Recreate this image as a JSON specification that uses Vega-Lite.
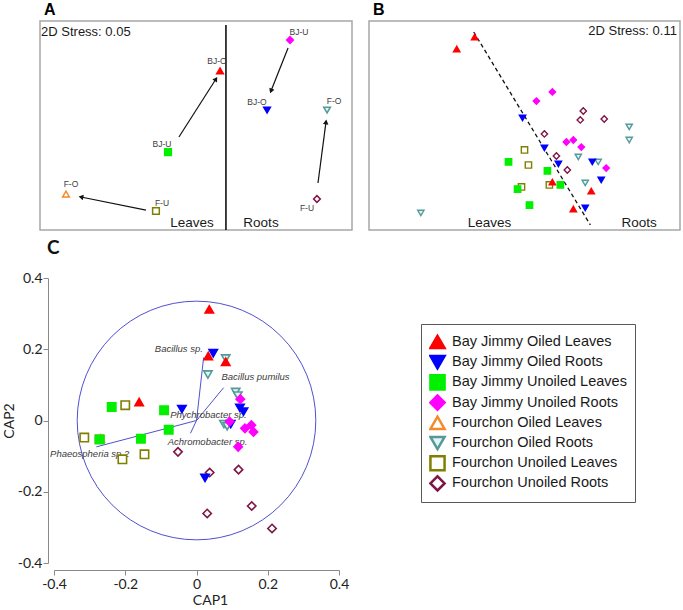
{
  "$schema": "https://vega.github.io/schema/vega-lite/v6.json",
  "padding": {"left": 2, "top": 1, "right": 0, "bottom": 0},
  "autosize": {"type": "pad"},
  "background": "white",
  "config": {
    "view": {"stroke": null},
    "font": "Liberation Sans",
    "legend": {
      "orient": "none", "legendX": 381, "legendY": 46,
      "strokeColor": "#595959", "padding": 8, "rowPadding": 0.2, "clipHeight": 20,
      "labelFont": "Liberation Sans", "labelFontSize": 14.5, "labelColor": "#1a1a1a",
      "symbolSize": 200, "symbolStrokeWidth": 2.5, "labelOffset": 6, "labelLimit": 400
    }
  },
  "datasets": {
    "a_points": [
      {"group": "Fourchon Oiled Leaves", "code": "F-O", "x": -1.25, "y": -0.656, "label_x": -1.202, "label_y": -0.56},
      {"group": "Fourchon Unoiled Leaves", "code": "F-U", "x": -0.385, "y": -0.818, "label_x": -0.327, "label_y": -0.742},
      {"group": "Bay Jimmy Unoiled Leaves", "code": "BJ-U", "x": -0.269, "y": -0.254, "label_x": -0.327, "label_y": -0.177},
      {"group": "Bay Jimmy Oiled Leaves", "code": "BJ-O", "x": 0.231, "y": 0.522, "label_x": 0.202, "label_y": 0.617},
      {"group": "Bay Jimmy Unoiled Roots", "code": "BJ-U", "x": 0.904, "y": 0.818, "label_x": 0.99, "label_y": 0.895},
      {"group": "Bay Jimmy Oiled Roots", "code": "BJ-O", "x": 0.683, "y": 0.148, "label_x": 0.586, "label_y": 0.225},
      {"group": "Fourchon Oiled Roots", "code": "F-O", "x": 1.26, "y": 0.148, "label_x": 1.327, "label_y": 0.234},
      {"group": "Fourchon Unoiled Roots", "code": "F-U", "x": 1.163, "y": -0.703, "label_x": 1.067, "label_y": -0.789}
    ],
    "a_arrows": [
      {"tissue": "Leaves", "site": "Bay Jimmy", "x": -0.164, "y": -0.11, "x2": 0.192, "y2": 0.445, "bearing": 32.5},
      {"tissue": "Leaves", "site": "Fourchon", "x": -0.481, "y": -0.809, "x2": -1.106, "y2": -0.684, "bearing": 281.3},
      {"tissue": "Roots", "site": "Bay Jimmy", "x": 0.885, "y": 0.742, "x2": 0.721, "y2": 0.33, "bearing": 201.6},
      {"tissue": "Roots", "site": "Fourchon", "x": 1.173, "y": -0.55, "x2": 1.25, "y2": 0.034, "bearing": 7.5}
    ],
    "a_divider": [
      {"x": 0.288, "y": 0.962},
      {"x": 0.288, "y": -1.0}
    ],
    "b_divider": [
      {"x": -0.49, "y": 0.895},
      {"x": 0.635, "y": -0.952}
    ],
    "b_points": [
      {"group": "Fourchon Unoiled Leaves", "x": 0.0, "y": -0.234},
      {"group": "Fourchon Unoiled Leaves", "x": 0.038, "y": -0.378},
      {"group": "Fourchon Unoiled Leaves", "x": -0.029, "y": -0.588},
      {"group": "Fourchon Unoiled Leaves", "x": 0.24, "y": -0.569},
      {"group": "Fourchon Unoiled Roots", "x": 0.567, "y": 0.139},
      {"group": "Fourchon Unoiled Roots", "x": 0.538, "y": 0.053},
      {"group": "Fourchon Unoiled Roots", "x": 0.769, "y": 0.062},
      {"group": "Fourchon Unoiled Roots", "x": 0.192, "y": -0.081},
      {"group": "Fourchon Unoiled Roots", "x": 0.308, "y": -0.292},
      {"group": "Fourchon Unoiled Roots", "x": 0.413, "y": -0.426},
      {"group": "Fourchon Oiled Roots", "x": 1.01, "y": -0.014},
      {"group": "Fourchon Oiled Roots", "x": 1.01, "y": -0.139},
      {"group": "Fourchon Oiled Roots", "x": 0.519, "y": -0.301},
      {"group": "Fourchon Oiled Roots", "x": 0.711, "y": -0.349},
      {"group": "Fourchon Oiled Roots", "x": 0.586, "y": -0.55},
      {"group": "Fourchon Oiled Roots", "x": -1.0, "y": -0.837},
      {"group": "Bay Jimmy Oiled Leaves", "x": -0.654, "y": 0.732},
      {"group": "Bay Jimmy Oiled Leaves", "x": -0.481, "y": 0.847},
      {"group": "Bay Jimmy Oiled Leaves", "x": 0.269, "y": -0.541},
      {"group": "Bay Jimmy Oiled Leaves", "x": 0.644, "y": -0.627},
      {"group": "Bay Jimmy Oiled Leaves", "x": 0.471, "y": -0.799},
      {"group": "Bay Jimmy Oiled Roots", "x": -0.019, "y": 0.072},
      {"group": "Bay Jimmy Oiled Roots", "x": 0.192, "y": -0.215},
      {"group": "Bay Jimmy Oiled Roots", "x": 0.327, "y": -0.368},
      {"group": "Bay Jimmy Oiled Roots", "x": 0.654, "y": -0.349},
      {"group": "Bay Jimmy Oiled Roots", "x": 0.74, "y": -0.521},
      {"group": "Bay Jimmy Oiled Roots", "x": 0.586, "y": -0.789},
      {"group": "Bay Jimmy Unoiled Leaves", "x": -0.154, "y": -0.349},
      {"group": "Bay Jimmy Unoiled Leaves", "x": 0.221, "y": -0.435},
      {"group": "Bay Jimmy Unoiled Leaves", "x": 0.346, "y": -0.569},
      {"group": "Bay Jimmy Unoiled Leaves", "x": -0.067, "y": -0.608},
      {"group": "Bay Jimmy Unoiled Leaves", "x": 0.048, "y": -0.761},
      {"group": "Bay Jimmy Unoiled Roots", "x": 0.269, "y": 0.321},
      {"group": "Bay Jimmy Unoiled Roots", "x": 0.115, "y": 0.234},
      {"group": "Bay Jimmy Unoiled Roots", "x": 0.404, "y": -0.158},
      {"group": "Bay Jimmy Unoiled Roots", "x": 0.471, "y": -0.139},
      {"group": "Bay Jimmy Unoiled Roots", "x": 0.548, "y": -0.206},
      {"group": "Bay Jimmy Unoiled Roots", "x": 0.788, "y": -0.407}
    ],
    "c_points": [
      {"group": "Fourchon Unoiled Leaves", "x": -0.2, "y": 0.043},
      {"group": "Fourchon Unoiled Leaves", "x": -0.315, "y": -0.048},
      {"group": "Fourchon Unoiled Leaves", "x": -0.272, "y": -0.053},
      {"group": "Fourchon Unoiled Leaves", "x": -0.208, "y": -0.109},
      {"group": "Fourchon Unoiled Leaves", "x": -0.146, "y": -0.095},
      {"group": "Fourchon Oiled Leaves", "x": -0.27, "y": -0.05},
      {"group": "Fourchon Unoiled Roots", "x": -0.052, "y": -0.088},
      {"group": "Fourchon Unoiled Roots", "x": 0.037, "y": -0.146},
      {"group": "Fourchon Unoiled Roots", "x": 0.118, "y": -0.138},
      {"group": "Fourchon Unoiled Roots", "x": 0.03, "y": -0.261},
      {"group": "Fourchon Unoiled Roots", "x": 0.155, "y": -0.24},
      {"group": "Fourchon Unoiled Roots", "x": 0.212, "y": -0.303},
      {"group": "Fourchon Oiled Roots", "x": 0.082, "y": 0.174},
      {"group": "Fourchon Oiled Roots", "x": 0.032, "y": 0.129},
      {"group": "Fourchon Oiled Roots", "x": 0.11, "y": 0.08},
      {"group": "Fourchon Oiled Roots", "x": 0.116, "y": 0.07},
      {"group": "Fourchon Oiled Roots", "x": 0.077, "y": -0.01},
      {"group": "Fourchon Oiled Roots", "x": 0.086, "y": -0.016},
      {"group": "Bay Jimmy Oiled Leaves", "x": 0.036, "y": 0.312},
      {"group": "Bay Jimmy Oiled Leaves", "x": 0.033, "y": 0.181},
      {"group": "Bay Jimmy Oiled Leaves", "x": 0.082, "y": 0.165},
      {"group": "Bay Jimmy Oiled Leaves", "x": -0.161, "y": 0.052},
      {"group": "Bay Jimmy Oiled Roots", "x": 0.047, "y": 0.189},
      {"group": "Bay Jimmy Oiled Roots", "x": -0.041, "y": 0.032},
      {"group": "Bay Jimmy Oiled Roots", "x": 0.122, "y": 0.035},
      {"group": "Bay Jimmy Oiled Roots", "x": 0.132, "y": 0.025},
      {"group": "Bay Jimmy Oiled Roots", "x": 0.096, "y": -0.01},
      {"group": "Bay Jimmy Oiled Roots", "x": 0.024, "y": -0.161},
      {"group": "Bay Jimmy Unoiled Leaves", "x": -0.238, "y": 0.038},
      {"group": "Bay Jimmy Unoiled Leaves", "x": -0.091, "y": 0.029},
      {"group": "Bay Jimmy Unoiled Leaves", "x": -0.078, "y": -0.026},
      {"group": "Bay Jimmy Unoiled Leaves", "x": -0.156, "y": -0.051},
      {"group": "Bay Jimmy Unoiled Leaves", "x": -0.272, "y": -0.053},
      {"group": "Bay Jimmy Unoiled Roots", "x": 0.123, "y": 0.06},
      {"group": "Bay Jimmy Unoiled Roots", "x": 0.093, "y": -0.003},
      {"group": "Bay Jimmy Unoiled Roots", "x": 0.136, "y": -0.022},
      {"group": "Bay Jimmy Unoiled Roots", "x": 0.154, "y": -0.013},
      {"group": "Bay Jimmy Unoiled Roots", "x": 0.16, "y": -0.032},
      {"group": "Bay Jimmy Unoiled Roots", "x": 0.117, "y": -0.074}
    ],
    "c_vectors": [
      {"taxon": "Bacillus sp.", "x0": 0, "y0": 0, "x": 0.02, "y": 0.177, "label_x": -0.117, "label_y": 0.202},
      {"taxon": "Bacillus pumilus", "x0": 0, "y0": 0, "x": 0.076, "y": 0.092, "label_x": 0.07, "label_y": 0.121},
      {"taxon": "Phychrobacter sp.", "x0": 0, "y0": 0, "x": 0.006, "y": 0.006, "label_x": -0.074, "label_y": 0.015},
      {"taxon": "Achromobacter sp.", "x0": 0, "y0": 0, "x": -0.017, "y": -0.036, "label_x": -0.081, "label_y": -0.059},
      {"taxon": "Phaeospheria sp.2", "x0": 0, "y0": 0, "x": -0.281, "y": -0.074, "label_x": -0.411, "label_y": -0.094}
    ],
    "c_circle": [
      {"x": 0, "y": 0}
    ],
    "a_notes": [
      {"note": "Leaves", "x": -0.038, "y": -0.971},
      {"note": "Roots", "x": 0.625, "y": -0.971}
    ],
    "a_stress": [
      {"note": "2D Stress: 0.05", "x": -1.49, "y": 0.856}
    ],
    "b_notes": [
      {"note": "Leaves", "x": -0.337, "y": -0.971},
      {"note": "Roots", "x": 1.106, "y": -0.971}
    ],
    "b_stress": [
      {"note": "2D Stress: 0.11", "x": 1.47, "y": 0.866}
    ]
  },
  "spacing": 5,
  "columns": 1,
  "align": "none",
  "resolve": {"scale": {"x": "independent", "y": "independent", "shape": "independent", "fill": "independent", "stroke": "independent"}},
  "concat": [
    {
      "spacing": 15,
      "resolve": {"scale": {"x": "independent", "y": "independent"}},
      "hconcat": [
        {
          "width": 312, "height": 209,
          "view": {"stroke": "#a6a6a6", "strokeWidth": 1.5},
          "title": {"text": "A", "anchor": "start", "frame": "group", "dx": 4, "offset": -10, "fontSize": 16, "fontWeight": "bold", "font": "Liberation Sans", "baseline": "alphabetic", "color": "#000000"},
          "layer": [
            {
              "data": {"name": "a_divider"},
              "mark": {"type": "line", "color": "#000000", "strokeWidth": 1.5},
              "encoding": {
                "x": {"field": "x", "type": "quantitative", "scale": {"domain": [-1.5, 1.5], "nice": false, "zero": false}, "axis": null},
                "y": {"field": "y", "type": "quantitative", "scale": {"domain": [-1, 1], "nice": false, "zero": false}}
              }
            },
            {
              "data": {"name": "a_arrows"},
              "mark": {"type": "rule", "color": "#111111", "strokeWidth": 1.2},
              "encoding": {
                "x": {"field": "x", "type": "quantitative", "axis": null},
                "y": {"field": "y", "type": "quantitative"},
                "x2": {"field": "x2"},
                "y2": {"field": "y2"}
              }
            },
            {
              "data": {"name": "a_arrows"},
              "mark": {"type": "point", "shape": "triangle-up", "filled": true, "color": "#111111", "size": 30, "opacity": 1},
              "encoding": {
                "x": {"field": "x2", "type": "quantitative", "axis": null},
                "y": {"field": "y2", "type": "quantitative"},
                "angle": {"field": "bearing", "type": "quantitative", "scale": null}
              }
            },
            {
              "data": {"name": "a_points"},
              "mark": {"type": "point", "filled": true, "size": 45, "strokeWidth": 1.5, "opacity": 1},
              "encoding": {
                "x": {"field": "x", "type": "quantitative", "axis": null},
                "y": {"field": "y", "type": "quantitative", "axis": {"domain": false, "ticks": false, "labels": false, "grid": false, "title": null, "minExtent": 34}},
                "shape": {"field": "group", "type": "nominal", "legend": null, "scale": {"domain": ["Bay Jimmy Oiled Leaves", "Bay Jimmy Oiled Roots", "Bay Jimmy Unoiled Leaves", "Bay Jimmy Unoiled Roots", "Fourchon Oiled Leaves", "Fourchon Oiled Roots", "Fourchon Unoiled Leaves", "Fourchon Unoiled Roots"], "range": ["triangle-up", "triangle-down", "square", "diamond", "triangle-up", "triangle-down", "square", "diamond"]}},
                "fill": {"field": "group", "type": "nominal", "legend": null, "scale": {"domain": ["Bay Jimmy Oiled Leaves", "Bay Jimmy Oiled Roots", "Bay Jimmy Unoiled Leaves", "Bay Jimmy Unoiled Roots", "Fourchon Oiled Leaves", "Fourchon Oiled Roots", "Fourchon Unoiled Leaves", "Fourchon Unoiled Roots"], "range": ["#ff0000", "#0000ff", "#00f000", "#ff00ff", "#ffffff", "#e0f5f5", "#ffffff", "#ffffff"]}},
                "stroke": {"field": "group", "type": "nominal", "legend": null, "scale": {"domain": ["Bay Jimmy Oiled Leaves", "Bay Jimmy Oiled Roots", "Bay Jimmy Unoiled Leaves", "Bay Jimmy Unoiled Roots", "Fourchon Oiled Leaves", "Fourchon Oiled Roots", "Fourchon Unoiled Leaves", "Fourchon Unoiled Roots"], "range": ["#ff0000", "#0000ff", "#00f000", "#ff00ff", "#f28c28", "#559999", "#7f7f00", "#7f1446"]}}
              }
            },
            {
              "data": {"name": "a_points"},
              "mark": {"type": "text", "fontSize": 8.5, "color": "#3c3c3c", "align": "center", "baseline": "middle"},
              "encoding": {
                "x": {"field": "label_x", "type": "quantitative", "axis": null},
                "y": {"field": "label_y", "type": "quantitative"},
                "text": {"field": "code"}
              }
            },
            {
              "data": {"name": "a_stress"},
              "mark": {"type": "text", "fontSize": 13, "align": "left", "baseline": "alphabetic", "color": "#1a1a1a"},
              "encoding": {"x": {"field": "x", "type": "quantitative", "axis": null}, "y": {"field": "y", "type": "quantitative"}, "text": {"field": "note"}}
            },
            {
              "data": {"name": "a_notes"},
              "mark": {"type": "text", "fontSize": 13.5, "align": "center", "baseline": "alphabetic", "color": "#1a1a1a"},
              "encoding": {"x": {"field": "x", "type": "quantitative", "axis": null}, "y": {"field": "y", "type": "quantitative"}, "text": {"field": "note"}}
            }
          ]
        },
        {
          "width": 311, "height": 209,
          "view": {"stroke": "#a6a6a6", "strokeWidth": 1.5},
          "title": {"text": "B", "anchor": "start", "frame": "group", "dx": 4, "offset": -10, "fontSize": 16, "fontWeight": "bold", "font": "Liberation Sans", "baseline": "alphabetic", "color": "#000000"},
          "layer": [
            {
              "data": {"name": "b_divider"},
              "mark": {"type": "line", "color": "#111111", "strokeWidth": 1.3, "strokeDash": [4, 3]},
              "encoding": {
                "x": {"field": "x", "type": "quantitative", "scale": {"domain": [-1.5, 1.5], "nice": false, "zero": false}, "axis": null},
                "y": {"field": "y", "type": "quantitative", "scale": {"domain": [-1, 1], "nice": false, "zero": false}, "axis": null}
              }
            },
            {
              "data": {"name": "b_points"},
              "mark": {"type": "point", "filled": true, "size": 40, "strokeWidth": 1.4, "opacity": 1},
              "encoding": {
                "x": {"field": "x", "type": "quantitative", "axis": null},
                "y": {"field": "y", "type": "quantitative", "axis": null},
                "shape": {"field": "group", "type": "nominal", "legend": null, "scale": {"domain": ["Bay Jimmy Oiled Leaves", "Bay Jimmy Oiled Roots", "Bay Jimmy Unoiled Leaves", "Bay Jimmy Unoiled Roots", "Fourchon Oiled Leaves", "Fourchon Oiled Roots", "Fourchon Unoiled Leaves", "Fourchon Unoiled Roots"], "range": ["triangle-up", "triangle-down", "square", "diamond", "triangle-up", "triangle-down", "square", "diamond"]}},
                "fill": {"field": "group", "type": "nominal", "legend": null, "scale": {"domain": ["Bay Jimmy Oiled Leaves", "Bay Jimmy Oiled Roots", "Bay Jimmy Unoiled Leaves", "Bay Jimmy Unoiled Roots", "Fourchon Oiled Leaves", "Fourchon Oiled Roots", "Fourchon Unoiled Leaves", "Fourchon Unoiled Roots"], "range": ["#ff0000", "#0000ff", "#00f000", "#ff00ff", "#ffffff", "#e0f5f5", "#ffffff", "#ffffff"]}},
                "stroke": {"field": "group", "type": "nominal", "legend": null, "scale": {"domain": ["Bay Jimmy Oiled Leaves", "Bay Jimmy Oiled Roots", "Bay Jimmy Unoiled Leaves", "Bay Jimmy Unoiled Roots", "Fourchon Oiled Leaves", "Fourchon Oiled Roots", "Fourchon Unoiled Leaves", "Fourchon Unoiled Roots"], "range": ["#ff0000", "#0000ff", "#00f000", "#ff00ff", "#f28c28", "#559999", "#7f7f00", "#7f1446"]}}
              }
            },
            {
              "data": {"name": "b_stress"},
              "mark": {"type": "text", "fontSize": 13, "align": "right", "baseline": "alphabetic", "color": "#1a1a1a"},
              "encoding": {"x": {"field": "x", "type": "quantitative", "axis": null}, "y": {"field": "y", "type": "quantitative", "axis": null}, "text": {"field": "note"}}
            },
            {
              "data": {"name": "b_notes"},
              "mark": {"type": "text", "fontSize": 13.5, "align": "center", "baseline": "alphabetic", "color": "#1a1a1a"},
              "encoding": {"x": {"field": "x", "type": "quantitative", "axis": null}, "y": {"field": "y", "type": "quantitative", "axis": null}, "text": {"field": "note"}}
            }
          ]
        }
      ]
    },
    {
      "width": 299, "height": 285,
      "title": {"text": "C", "anchor": "start", "frame": "group", "dx": 7, "offset": -2, "fontSize": 19, "fontWeight": "bold", "font": "Lato", "baseline": "alphabetic", "color": "#111111"},
      "layer": [
        {
          "data": {"name": "c_circle"},
          "mark": {"type": "point", "shape": "circle", "size": 56930, "filled": false, "stroke": "#5050d0", "strokeWidth": 1, "opacity": 1},
          "encoding": {
            "x": {"field": "x", "type": "quantitative", "scale": {"domain": [-0.4, 0.4], "range": [14, 299], "nice": false, "zero": false},
              "axis": {"title": "CAP1", "titleX": 170, "values": [-0.4, -0.2, 0, 0.2, 0.4], "grid": false, "offset": 7, "domainColor": "#8a8a8a", "tickColor": "#8a8a8a", "tickSize": 5, "labelFont": "Lato", "labelFontSize": 14, "labelColor": "#222222", "titleFont": "Lato", "titleFontSize": 14, "titleFontWeight": "normal", "titleColor": "#222222", "titlePadding": 2, "labelPadding": 2, "labelFlush": false, "labelExpr": "datum.value == 0 ? '0' : (datum.value < 0 ? '-' : '') + format(abs(datum.value), '.1f')"}},
            "y": {"field": "y", "type": "quantitative", "scale": {"domain": [-0.4, 0.4], "nice": false, "zero": false},
              "axis": {"title": "CAP2", "values": [-0.4, -0.2, 0, 0.2, 0.4], "grid": false, "offset": -8, "domainColor": "#8a8a8a", "tickColor": "#8a8a8a", "tickSize": 5, "labelFont": "Lato", "labelFontSize": 14, "labelColor": "#222222", "titleFont": "Lato", "titleFontSize": 14, "titleFontWeight": "normal", "titleColor": "#222222", "titlePadding": 1, "labelPadding": 1, "labelFlush": false, "labelExpr": "datum.value == 0 ? '0' : (datum.value < 0 ? '-' : '') + format(abs(datum.value), '.1f')"}}
          }
        },
        {
          "data": {"name": "c_vectors"},
          "mark": {"type": "rule", "color": "#5050d0", "strokeWidth": 1},
          "encoding": {
            "x": {"field": "x0", "type": "quantitative"},
            "y": {"field": "y0", "type": "quantitative"},
            "x2": {"field": "x"},
            "y2": {"field": "y"}
          }
        },
        {
          "data": {"name": "c_vectors"},
          "mark": {"type": "text", "fontSize": 9.5, "fontStyle": "italic", "color": "#3c3c3c", "align": "left", "baseline": "middle"},
          "encoding": {
            "x": {"field": "label_x", "type": "quantitative"},
            "y": {"field": "label_y", "type": "quantitative"},
            "text": {"field": "taxon"}
          }
        },
        {
          "data": {"name": "c_points"},
          "mark": {"type": "point", "filled": true, "size": 70, "strokeWidth": 1.6, "opacity": 1},
          "encoding": {
            "x": {"field": "x", "type": "quantitative"},
            "y": {"field": "y", "type": "quantitative"},
            "shape": {"field": "group", "type": "nominal", "title": null, "scale": {"domain": ["Bay Jimmy Oiled Leaves", "Bay Jimmy Oiled Roots", "Bay Jimmy Unoiled Leaves", "Bay Jimmy Unoiled Roots", "Fourchon Oiled Leaves", "Fourchon Oiled Roots", "Fourchon Unoiled Leaves", "Fourchon Unoiled Roots"], "range": ["triangle-up", "triangle-down", "square", "diamond", "triangle-up", "triangle-down", "square", "diamond"]}},
            "fill": {"field": "group", "type": "nominal", "title": null, "scale": {"domain": ["Bay Jimmy Oiled Leaves", "Bay Jimmy Oiled Roots", "Bay Jimmy Unoiled Leaves", "Bay Jimmy Unoiled Roots", "Fourchon Oiled Leaves", "Fourchon Oiled Roots", "Fourchon Unoiled Leaves", "Fourchon Unoiled Roots"], "range": ["#ff0000", "#0000ff", "#00f000", "#ff00ff", "#ffffff", "#e0f5f5", "#ffffff", "#ffffff"]}},
            "stroke": {"field": "group", "type": "nominal", "title": null, "scale": {"domain": ["Bay Jimmy Oiled Leaves", "Bay Jimmy Oiled Roots", "Bay Jimmy Unoiled Leaves", "Bay Jimmy Unoiled Roots", "Fourchon Oiled Leaves", "Fourchon Oiled Roots", "Fourchon Unoiled Leaves", "Fourchon Unoiled Roots"], "range": ["#ff0000", "#0000ff", "#00f000", "#ff00ff", "#f28c28", "#559999", "#7f7f00", "#7f1446"]}}
          }
        }
      ]
    }
  ]
}
